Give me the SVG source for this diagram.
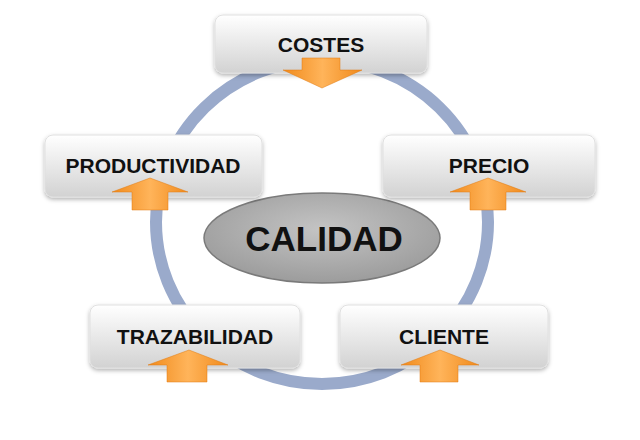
<svg xmlns="http://www.w3.org/2000/svg" width="640" height="440" viewBox="0 0 640 440">
<defs>
<linearGradient id="bg" x1="0" y1="0" x2="0" y2="1"><stop offset="0" stop-color="#ffffff"/><stop offset="1" stop-color="#d2d2d2"/></linearGradient>
<linearGradient id="ag" x1="0" y1="0" x2="1" y2="0"><stop offset="0" stop-color="#f08a1c"/><stop offset="0.5" stop-color="#ffb45a"/><stop offset="1" stop-color="#f08a1c"/></linearGradient>
<radialGradient id="eg" cx="0.5" cy="0.4" r="0.6"><stop offset="0" stop-color="#c4c4c4"/><stop offset="1" stop-color="#9c9c9c"/></radialGradient>
<filter id="sh" x="-10%" y="-10%" width="120%" height="130%"><feDropShadow dx="0" dy="2" stdDeviation="2" flood-color="#000" flood-opacity="0.3"/></filter>
</defs>
<style>
.box{fill:url(#bg);stroke:#e0e0e0;stroke-width:1;filter:url(#sh)}
.t{font-family:"Liberation Sans",Arial,sans-serif;font-weight:bold;font-size:21px;fill:#111;text-anchor:middle}
.ar{fill:url(#ag);stroke:#e07a10;stroke-width:0.5}
</style>
<rect width="640" height="440" fill="#fff"/>
<g id="connectors">
<ellipse cx="322" cy="222" rx="166" ry="162" fill="none" stroke="#9aaacb" stroke-width="12"/>
</g>
<g id="calidad">
<ellipse cx="322" cy="238" rx="118" ry="45" fill="url(#eg)" stroke="#7a7a7a" stroke-width="1.5"/>
<text x="324" y="251" class="t" style="font-size:35px">CALIDAD</text>
</g>
<g id="costes">
<rect class="box" x="215" y="15" width="212" height="58" rx="8"/>
<text x="321" y="52" class="t">COSTES</text>
<path class="ar" d="M302 58H340V70H362L322 88L283 70H302Z"/>
</g>
<g id="productividad">
<rect class="box" x="45" y="135" width="217" height="62" rx="8"/>
<text x="153" y="173" class="t">PRODUCTIVIDAD</text>
<path class="ar" d="M150 178L188 192H168V210H132V192H112Z"/>
</g>
<g id="precio">
<rect class="box" x="383" y="135" width="212" height="62" rx="8"/>
<text x="489" y="173" class="t">PRECIO</text>
<path class="ar" d="M488 178L526 192H506V210H470V192H450Z"/>
</g>
<g id="trazabilidad">
<rect class="box" x="90" y="305" width="210" height="63" rx="8"/>
<text x="195" y="344" class="t">TRAZABILIDAD</text>
<path class="ar" d="M189 350L228 365H207V382H167V365H148Z"/>
</g>
<g id="cliente">
<rect class="box" x="340" y="305" width="208" height="63" rx="8"/>
<text x="444" y="344" class="t">CLIENTE</text>
<path class="ar" d="M440 350L479 365H458V382H420V365H401Z"/>
</g>
</svg>
